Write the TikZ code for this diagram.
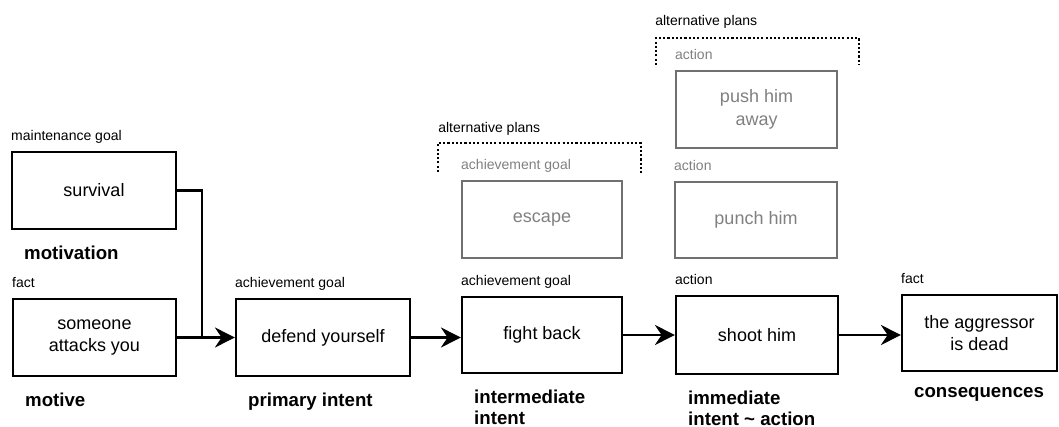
\documentclass[tikz,border=0pt]{standalone}
\usepackage{fontspec}
\setmainfont{Liberation Sans}
\usetikzlibrary{arrows.meta}

\definecolor{altgray}{HTML}{707070}
\definecolor{alttext}{HTML}{808080}

\tikzset{
  box/.style={draw, line width=1.6pt, minimum height=57.75pt, align=center,
    inner sep=2pt, font=\fontsize{13.5}{17}\selectfont},
  altbox/.style={box, draw=altgray, text=alttext},
  kind/.style={anchor=base west, inner sep=0pt, yshift=8pt,
    font=\fontsize{10.5}{12.5}\selectfont},
  role/.style={anchor=north west, inner sep=0pt, align=left, xshift=9.75pt,
    yshift=-11.4pt, font=\fontsize{14}{16}\selectfont\bfseries},
  flow/.style={line width=1.6pt, -{Stealth[length=15pt,width=15pt,inset=5pt]}},
  plans/.style={line width=1.6pt, dash pattern=on 1.6pt off 1.6pt},
}

\begin{document}
\begin{tikzpicture}[x=0.75pt,y=-0.75pt]
  \useasboundingbox (0,0) rectangle (1059,427);

  % main chain
  \node[box, minimum width=123pt] (survival) at (94,190.5) {survival};
  \node[box, minimum width=122.25pt] (attack) at (94.5,337.5) {someone\\attacks you};
  \node[box, minimum width=130.5pt] (defend) at (323,337.5) {defend yourself};
  \node[box, minimum width=120pt, minimum height=57pt] (fight) at (542,335) {fight back};
  \node[box, minimum width=121.5pt, minimum height=58.5pt] (shoot) at (757,335) {shoot him};
  \node[box, minimum width=116.25pt, minimum height=57pt] (aggressor) at (979.5,333) {the aggressor\\is dead};

  % alternatives
  \node[altbox, minimum width=120pt] (escape) at (542,219.5) {escape};
  \node[altbox, minimum width=120.75pt] (push) at (756.5,109.5) {push him\\away};
  \node[altbox, minimum width=121.5pt, minimum height=57pt] (punch) at (756,220) {punch him};

  % kinds
  \node[kind] (survival kind) at (survival.north west) {maintenance goal};
  \node[kind] (attack kind) at (attack.north west) {fact};
  \node[kind] (defend kind) at (defend.north west) {achievement goal};
  \node[kind] (fight kind) at (fight.north west) {achievement goal};
  \node[kind] (shoot kind) at (shoot.north west) {action};
  \node[kind] (aggressor kind) at (aggressor.north west) {fact};
  \node[kind, text=alttext] (escape kind) at (escape.north west) {achievement goal};
  \node[kind, text=alttext] (push kind) at (push.north west) {action};
  \node[kind, text=alttext] (punch kind) at (punch.north west) {action};

  % roles
  \node[role] (motivation) at (survival.south west) {motivation};
  \node[role] (motive) at (attack.south west) {motive};
  \node[role] (primary) at (defend.south west) {primary intent};
  \node[role] (intermediate) at (fight.south west) {intermediate\\intent};
  \node[role] (immediate) at (shoot.south west) {immediate\\intent \textasciitilde{} action};
  \node[role] (consequences) at (aggressor.south west) {consequences};

  % alternative plans
  \node[kind] (plans1) at (438,143) {alternative plans};
  \node[kind] (plans2) at (655,36) {alternative plans};
  \draw[plans] (438,172) |- (641,143) -- (641,173);
  \draw[plans] (656,65) |- (859,38) -- (859,65);

  % connectors
  \coordinate (join) at (202,337.5);
  \draw[line width=1.6pt] (survival.east) -| (join);
  \draw[flow] (attack) -- (defend);
  \draw[flow] (defend.east) -- (defend.east -| fight.west);
  \draw[flow] (fight) -- (shoot);
  \draw[flow] (shoot.east) -- (shoot.east -| aggressor.west);
\end{tikzpicture}
\end{document}
